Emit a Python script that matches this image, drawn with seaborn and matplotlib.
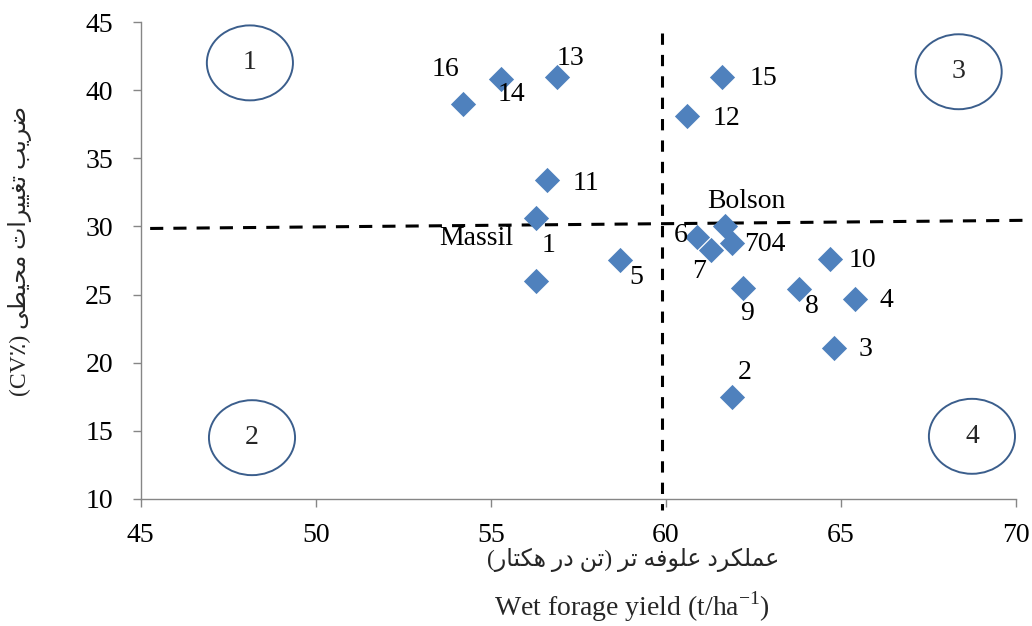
import matplotlib
matplotlib.use('Agg')
import matplotlib.pyplot as plt
import numpy as np
import pandas as pd
import seaborn as sns
from matplotlib.patches import Ellipse

# genotype data
genotypes = ['16', '14', '13', '15', '12', '11', 'Massil', '1', '5', '6',
             'Bolson', '7', '704', '9', '8', '10', '4', '3', '2']
yield_t = [54.2, 55.3, 56.9, 61.6, 60.6, 56.6, 56.3, 56.3, 58.7, 60.9,
           61.7, 61.3, 61.9, 62.2, 63.8, 64.7, 65.4, 64.8, 61.9]
cv_pct = [39.0, 40.8, 41.0, 41.0, 38.1, 33.4, 30.6, 26.0, 27.5, 29.2,
          30.0, 28.3, 28.8, 25.5, 25.4, 27.6, 24.7, 21.1, 17.5]

# quadrant dividers (mean lines) and quadrant ids
h_div_x = [45.27, 70.33]
h_div_y = [29.85, 30.45]
v_div_x = [59.9, 59.9]
v_div_y = [44.2, 9.2]
quad_ids = ['1', '2', '3', '4']
quad_x = [48.12, 48.18, 68.37, 68.75]
quad_y = [42.0, 14.5, 41.35, 14.6]

# label offsets in pixels (label centre minus point centre)
label_offsets = {
    '16': (-17, 34), '14': (10, -15), '13': (13, 18), '15': (42, -2),
    '12': (40, -2), '11': (39, -3), 'Massil': (-60, -20), '1': (12, 35),
    '5': (16, -17), '6': (-17, 2), 'Bolson': (21, 25), '7': (-12, -22),
    '704': (33, -2), '9': (4, -26), '8': (13, -17), '10': (32, -1),
    '4': (32, -2), '3': (32, -2), '2': (12, 24),
}

# simple Persian shaping (matplotlib does no contextual shaping / bidi)
FORMS = {
    'ا': ('\uFE8D', '\uFE8E', None, None),
    'ب': ('\uFE8F', '\uFE90', '\uFE91', '\uFE92'),
    'ت': ('\uFE95', '\uFE96', '\uFE97', '\uFE98'),
    'ح': ('\uFEA1', '\uFEA2', '\uFEA3', '\uFEA4'),
    'د': ('\uFEA9', '\uFEAA', None, None),
    'ر': ('\uFEAD', '\uFEAE', None, None),
    'ض': ('\uFEBD', '\uFEBE', '\uFEBF', '\uFEC0'),
    'ط': ('\uFEC1', '\uFEC2', '\uFEC3', '\uFEC4'),
    'ع': ('\uFEC9', '\uFECA', '\uFECB', '\uFECC'),
    'غ': ('\uFECD', '\uFECE', '\uFECF', '\uFED0'),
    'ف': ('\uFED1', '\uFED2', '\uFED3', '\uFED4'),
    'ل': ('\uFEDD', '\uFEDE', '\uFEDF', '\uFEE0'),
    'م': ('\uFEE1', '\uFEE2', '\uFEE3', '\uFEE4'),
    'ن': ('\uFEE5', '\uFEE6', '\uFEE7', '\uFEE8'),
    'ه': ('\uFEE9', '\uFEEA', '\uFEEB', '\uFEEC'),
    'و': ('\uFEED', '\uFEEE', None, None),
    'ک': ('\uFB8E', '\uFB8F', '\uFB90', '\uFB91'),
    'ی': ('\uFBFC', '\uFBFD', '\uFBFE', '\uFBFF'),
}


def shape_word(w):
    out = []
    for i, c in enumerate(w):
        prev = w[i - 1] if i > 0 else None
        nxt = w[i + 1] if i + 1 < len(w) else None
        iso, fin, ini, med = FORMS[c]
        jp = prev in FORMS and FORMS[prev][2] is not None
        jn = nxt in FORMS and ini is not None
        if jp and jn:
            out.append(med)
        elif jp:
            out.append(fin)
        elif jn:
            out.append(ini)
        else:
            out.append(iso)
    return ''.join(reversed(out))


def fa(phrase):
    # logical order in, visual (left-to-right) order out
    return ' '.join(shape_word(w) for w in reversed(phrase.split()))


xlabel_fa = '(' + fa('تن در هکتار') + ') ' + fa('عملکرد علوفه تر')
ylabel_fa = '(CV٪) ' + fa('ضریب تغییرات محیطی')
xlabel_en = r'Wet forage yield (t/ha$^{\mathregular{-1}}$)'

sns.set_style('ticks')
plt.rcParams['font.family'] = ['Liberation Serif', 'DejaVu Sans']
plt.rcParams['mathtext.fontset'] = 'custom'
plt.rcParams['mathtext.rm'] = 'Liberation Serif'

df = pd.DataFrame({'genotype': genotypes, 'yield': yield_t, 'cv': cv_pct})

fig = plt.figure(figsize=(10.32, 6.26), dpi=100)
ax = fig.add_axes([140.7 / 1032, 1 - 499 / 626, 875 / 1032, 477 / 626])

sns.scatterplot(data=df, x='yield', y='cv', marker='D', s=165,
                color='#4F81BD', linewidth=0, ax=ax, zorder=3)

for g, x, y in zip(genotypes, yield_t, cv_pct):
    dx, dy = label_offsets[g]
    ax.annotate(g, (x, y), xytext=(dx * 0.72, dy * 0.72), textcoords='offset points',
                ha='center', va='center', fontsize=20, color='black')

ax.plot(h_div_x, h_div_y, color='black', lw=2.2, ls=(0, (4.3, 3.3)), clip_on=False, zorder=2)
ax.plot(v_div_x, v_div_y, color='black', lw=2.2, ls=(0, (3.7, 3.3)), clip_on=False, zorder=2)

for q, x, y in zip(quad_ids, quad_x, quad_y):
    ax.add_patch(Ellipse((x, y), 2.46, 5.5, fill=False, edgecolor='#3B5E8C',
                         lw=1.4, clip_on=False))
    ax.text(x, y, q, ha='center', va='center', fontsize=20)

ax.set_xlim(45, 70)
ax.set_ylim(10, 45)
ax.set_xticks(np.arange(45, 71, 5))
ax.set_yticks(np.arange(10, 46, 5))
sns.despine(ax=ax)
for s in ['left', 'bottom']:
    ax.spines[s].set_color('#868686')
    ax.spines[s].set_linewidth(1.0)
ax.tick_params(axis='both', colors='#868686', labelcolor='black', labelsize=20,
               length=6, width=1.0, direction='out')
ax.tick_params(axis='x', pad=11)
ax.tick_params(axis='y', pad=14)

ax.set_xlabel(xlabel_en, fontsize=20)
ax.xaxis.set_label_coords((632 - 140.7) / 875, (499 - 607) / 477)
ax.xaxis.label.set_va('center')
ax.text((633 - 140.7) / 875, (499 - 560) / 477, xlabel_fa, transform=ax.transAxes,
        ha='center', va='center', fontsize=17)

ax.set_ylabel(ylabel_fa, fontsize=17)
ax.yaxis.set_label_coords((20 - 140.7) / 875, (499 - 251) / 477)
ax.yaxis.label.set_va('center')

fig.savefig('out.png', dpi=100)
plt.close(fig)
